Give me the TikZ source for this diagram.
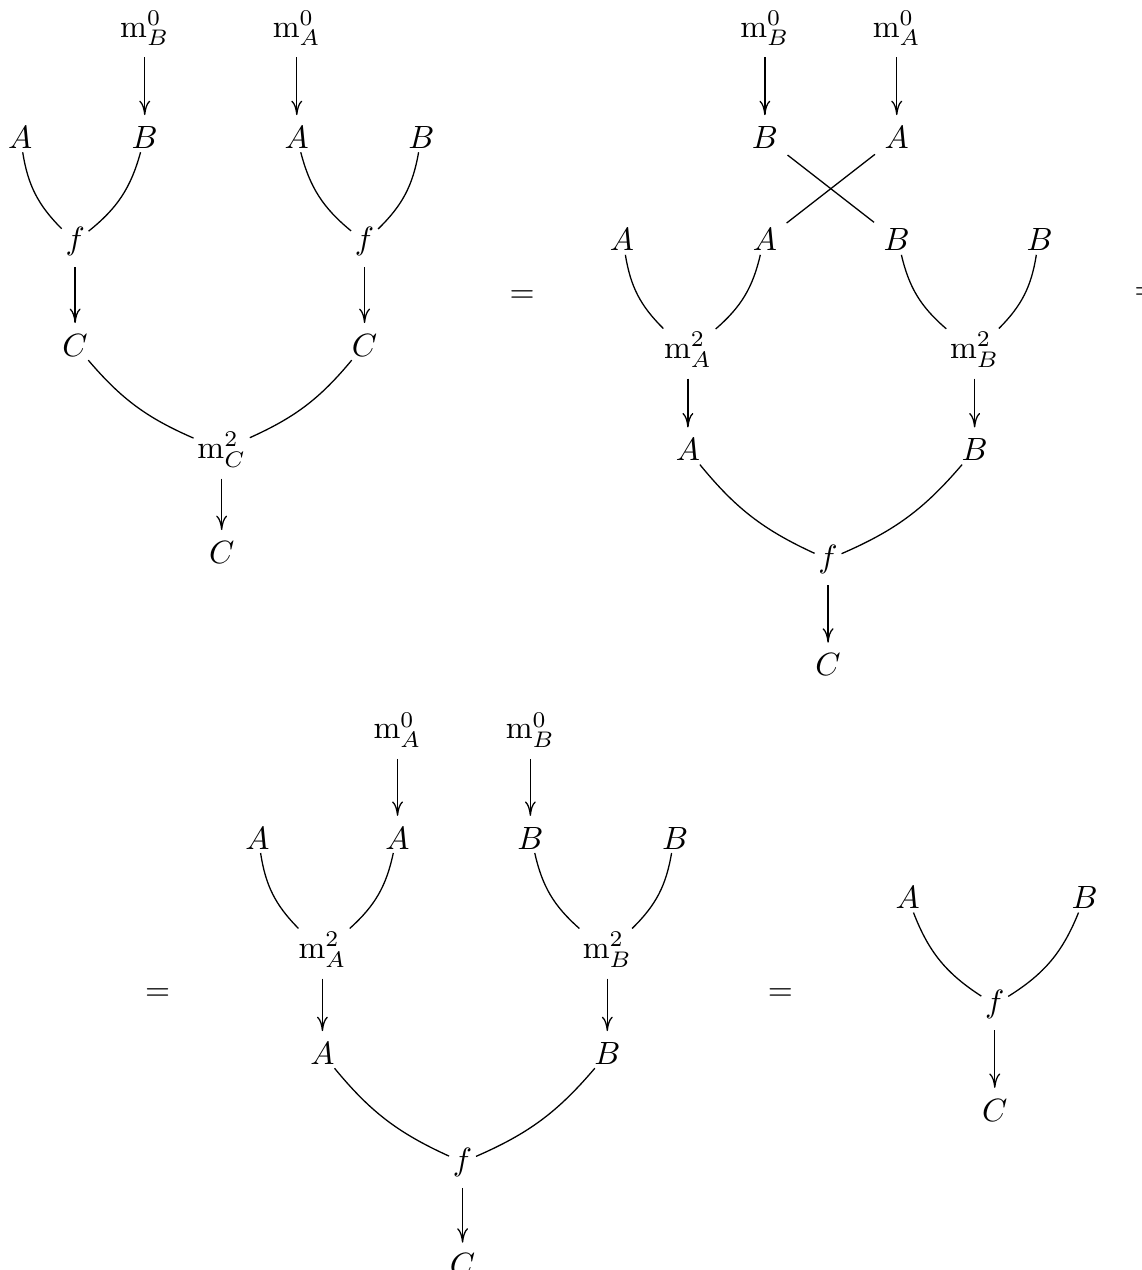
\documentclass[tikz,border=0pt]{standalone}
\usepackage{amsmath}
\usetikzlibrary{arrows.meta}
\begin{document}
\begin{tikzpicture}[
    every node/.style={inner sep=1pt},
    wire/.style={shorten <=2.3pt, shorten >=2.3pt},
    arr/.style={wire, -{Computer Modern Rightarrow[length=4.5pt, width=3.4pt]}},
    lleg/.style={bend right=18},
    rleg/.style={bend left=18},
    larm/.style={bend right=13},
    rarm/.style={bend left=13}]
    \useasboundingbox (0,0) rectangle (12.467,-13.865);

    % first diagram
    \node (mB0a) at (1.58,-0.31) {$\mathrm{m}^0_B$};
    \node (mA0a) at (3.24,-0.31) {$\mathrm{m}^0_A$};
    \node (A1) at (0.22,-1.50) {$A$};
    \node (B1) at (1.58,-1.50) {$B$};
    \node (A2) at (3.24,-1.50) {$A$};
    \node (B2) at (4.60,-1.50) {$B$};
    \node (f1) at (0.82,-2.64) {$f$};
    \node (f2) at (3.98,-2.64) {$f$};
    \node (C1) at (0.82,-3.77) {$C$};
    \node (C2) at (3.98,-3.77) {$C$};
    \node (mC) at (2.42,-4.91) {$\mathrm{m}^2_C$};
    \node (C3) at (2.42,-6.03) {$C$};
    \draw[arr] (mB0a) -- (B1);
    \draw[arr] (mA0a) -- (A2);
    \draw (A1) to[lleg] (f1);
    \draw (B1) to[rleg] (f1);
    \draw (A2) to[lleg] (f2);
    \draw (B2) to[rleg] (f2);
    \draw[arr] (f1) -- (C1);
    \draw[arr] (f2) -- (C2);
    \draw (C1) to[larm] (mC);
    \draw (C2) to[rarm] (mC);
    \draw[arr] (mC) -- (C3);

    \node (eq1) at (5.70,-3.24) {$=$};

    % second diagram
    \node (mB0b) at (8.35,-0.31) {$\mathrm{m}^0_B$};
    \node (mA0b) at (9.79,-0.31) {$\mathrm{m}^0_A$};
    \node (Bt) at (8.35,-1.50) {$B$};
    \node (At) at (9.79,-1.50) {$A$};
    \node (A3) at (6.79,-2.62) {$A$};
    \node (A4) at (8.35,-2.62) {$A$};
    \node (B3) at (9.79,-2.62) {$B$};
    \node (B4) at (11.35,-2.62) {$B$};
    \node (mA2b) at (7.51,-3.82) {$\mathrm{m}^2_A$};
    \node (mB2b) at (10.64,-3.82) {$\mathrm{m}^2_B$};
    \node (A5) at (7.51,-4.91) {$A$};
    \node (B5) at (10.64,-4.91) {$B$};
    \node (f3) at (9.04,-6.11) {$f$};
    \node (C4) at (9.04,-7.26) {$C$};
    \draw[arr] (mB0b) -- (Bt);
    \draw[arr] (mA0b) -- (At);
    \draw[wire] (Bt) -- (B3);
    \draw[wire] (At) -- (A4);
    \draw (A3) to[lleg] (mA2b);
    \draw (A4) to[rleg] (mA2b);
    \draw (B3) to[lleg] (mB2b);
    \draw (B4) to[rleg] (mB2b);
    \draw[arr] (mA2b) -- (A5);
    \draw[arr] (mB2b) -- (B5);
    \draw (A5) to[larm] (f3);
    \draw (B5) to[rarm] (f3);
    \draw[arr] (f3) -- (C4);

    \node (eq2) at (12.52,-3.21) {$=$};

    % third diagram
    \node (eq3) at (1.72,-10.86) {$=$};
    \node (mA0c) at (4.34,-7.97) {$\mathrm{m}^0_A$};
    \node (mB0c) at (5.79,-7.97) {$\mathrm{m}^0_B$};
    \node (A6) at (2.81,-9.15) {$A$};
    \node (A7) at (4.34,-9.15) {$A$};
    \node (B6) at (5.79,-9.15) {$B$};
    \node (B7) at (7.37,-9.15) {$B$};
    \node (mA2c) at (3.52,-10.37) {$\mathrm{m}^2_A$};
    \node (mB2c) at (6.63,-10.37) {$\mathrm{m}^2_B$};
    \node (A8) at (3.52,-11.50) {$A$};
    \node (B8) at (6.63,-11.50) {$B$};
    \node (f4) at (5.05,-12.69) {$f$};
    \node (C5) at (5.05,-13.81) {$C$};
    \draw[arr] (mA0c) -- (A7);
    \draw[arr] (mB0c) -- (B6);
    \draw (A6) to[lleg] (mA2c);
    \draw (A7) to[rleg] (mA2c);
    \draw (B6) to[lleg] (mB2c);
    \draw (B7) to[rleg] (mB2c);
    \draw[arr] (mA2c) -- (A8);
    \draw[arr] (mB2c) -- (B8);
    \draw (A8) to[larm] (f4);
    \draw (B8) to[rarm] (f4);
    \draw[arr] (f4) -- (C5);

    \node (eq4) at (8.52,-10.86) {$=$};

    % fourth diagram
    \node (A9) at (9.91,-9.80) {$A$};
    \node (B9) at (11.84,-9.80) {$B$};
    \node (f5) at (10.86,-10.97) {$f$};
    \node (C6) at (10.86,-12.12) {$C$};
    \draw (A9) to[lleg] (f5);
    \draw (B9) to[rleg] (f5);
    \draw[arr] (f5) -- (C6);
\end{tikzpicture}
\end{document}
